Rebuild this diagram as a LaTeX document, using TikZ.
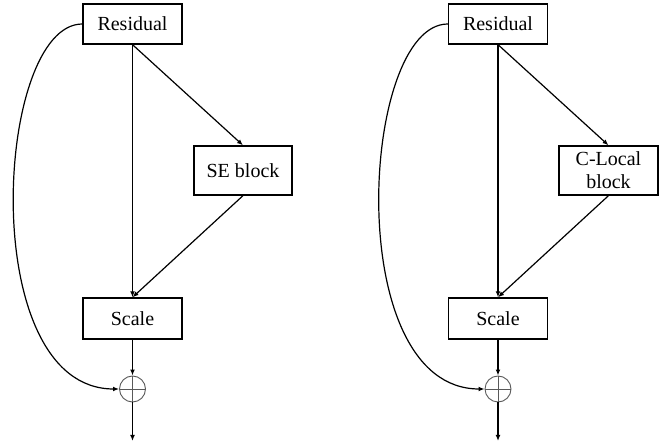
\documentclass[tikz,border=0pt]{standalone}
\usepackage{fontspec}
\setmainfont{Liberation Serif}
\usetikzlibrary{arrows.meta}

\begin{document}
\begin{tikzpicture}[
        x=0.5pt, y=-0.5pt,
        box/.style={rectangle, draw, line width=0.65pt, minimum width=49.5pt, minimum height=20pt, inner sep=1pt, font=\fontsize{10}{11.5}\selectfont, align=center},
        add/.style={circle, draw=black!65, line width=0.45pt, minimum size=13pt, inner sep=0pt},
        arr/.style={-{Latex[length=3pt,width=2.4pt]}, line width=0.6pt}
    ]
        \useasboundingbox (0,0) rectangle (663,442);

        % Left: SE block
        \node[box] (res1) at (132.5,24) {Residual};
        \node[box, minimum width=49pt, minimum height=24.5pt] (se) at (243,170.5) {SE block};
        \node[box, minimum height=20.5pt] (scale1) at (132.5,318.5) {Scale};
        \node[add] (add1) at (132.5,389) {};
        \draw[black!65, line width=0.45pt] (add1.west) -- (add1.east) (add1.north) -- (add1.south);
        \coordinate (out1) at (132.5,441);

        \draw[arr] (res1.south) -- (scale1.north);
        \draw[arr] (res1.south) -- (se.north);
        \draw[arr] (se.south) -- (scale1.north);
        \draw[arr] (scale1.south) -- (add1.north);
        \draw[arr] (add1.south) -- (out1);
        \draw[arr] (res1.west) .. controls (-5,24) and (-25,389) .. (add1.west);

        % Right: C-Local block
        \node[box, minimum height=20pt] (res2) at (498,24) {Residual};
        \node[box, minimum width=49.5pt, minimum height=24.5pt, inner sep=0pt] (clocal) at (608.5,170.5) {C-Local\\block};
        \node[box, minimum height=20.5pt] (scale2) at (498,318.5) {Scale};
        \node[add] (add2) at (498,389) {};
        \draw[black!65, line width=0.45pt] (add2.west) -- (add2.east) (add2.north) -- (add2.south);
        \coordinate (out2) at (498,441);

        \draw[arr] (res2.south) -- (scale2.north);
        \draw[arr] (res2.south) -- (clocal.north);
        \draw[arr] (clocal.south) -- (scale2.north);
        \draw[arr] (scale2.south) -- (add2.north);
        \draw[arr] (add2.south) -- (out2);
        \draw[arr] (res2.west) .. controls (360.5,24) and (340.5,389) .. (add2.west);
    \end{tikzpicture}
\end{document}
